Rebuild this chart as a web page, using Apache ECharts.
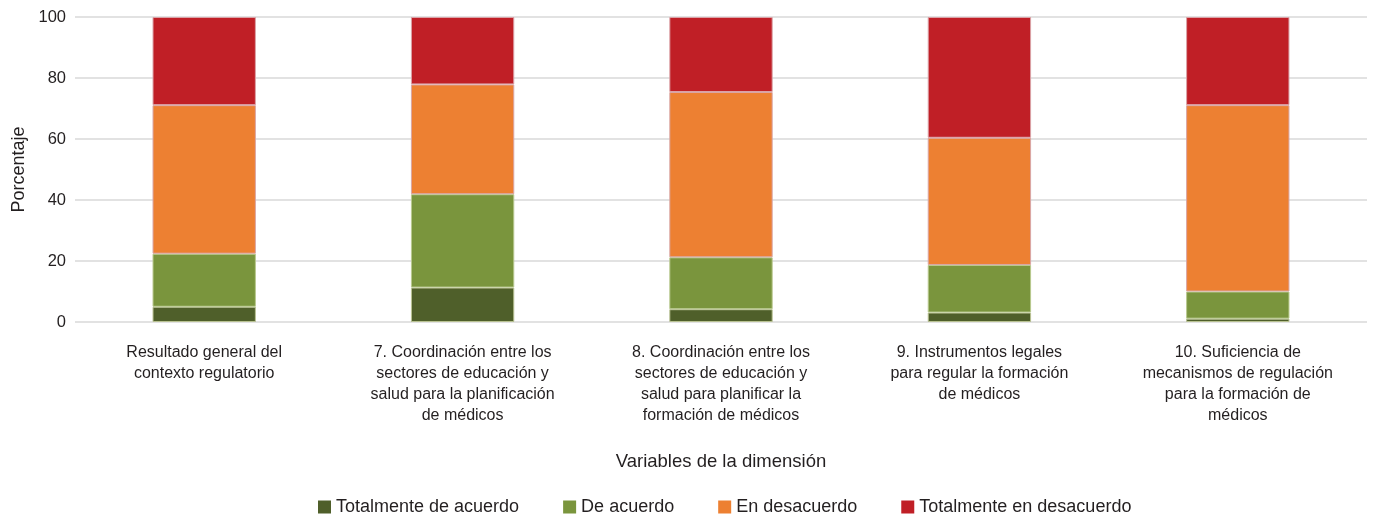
<!DOCTYPE html>
<html>
<head>
<meta charset="utf-8">
<script src="https://cdn.jsdelivr.net/npm/echarts@6/dist/echarts.min.js"></script>
<style>
  html, body { margin: 0; padding: 0; background: #fff; }
  #chart { width: 1374px; height: 517px; }
</style>
</head>
<body>
<div id="chart"></div>
<script>
const categories = [
  "Resultado general del\ncontexto regulatorio",
  "7. Coordinación entre los\nsectores de educación y\nsalud para la planificación\nde médicos",
  "8. Coordinación entre los\nsectores de educación y\nsalud para planificar la\nformación de médicos",
  "9. Instrumentos legales\npara regular la formación\nde médicos",
  "10. Suficiencia de\nmecanismos de regulación\npara la formación de\nmédicos",
];
const totalmenteDeAcuerdo = [5, 11.3, 4.2, 3.1, 1.1];
const deAcuerdo = [17.4, 30.6, 17, 15.6, 8.9];
const enDesacuerdo = [48.7, 36, 54.2, 41.7, 61.1];
const totalmenteEnDesacuerdo = [28.9, 22.1, 24.6, 39.6, 28.9];
const yTicks = [0, 20, 40, 60, 80, 100];

const font = "'Liberation Sans Narrow', 'Liberation Sans', sans-serif";
const textColor = "#231f20";

const makeSeries = (name, data, color, border) => ({
  name: name,
  type: "bar",
  stack: "total",
  barWidth: "40%",
  itemStyle: { color: color, borderColor: border, borderWidth: 1 },
  data: data,
});

const chart = echarts.init(document.getElementById("chart"));
chart.setOption({
  animation: false,
  textStyle: { fontFamily: font },
  grid: { left: 75, right: 7, top: 17, bottom: 195, outerBoundsMode: "none", containLabel: false },
  legend: {
    top: 493,
    left: 313,
    itemWidth: 13,
    itemHeight: 13,
    itemGap: 44,
    icon: "rect",
    itemStyle: { borderWidth: 0 },
    textStyle: { fontFamily: font, fontSize: 18, color: textColor },
  },
  xAxis: {
    type: "category",
    data: categories,
    name: "Variables de la dimensión",
    nameLocation: "middle",
    nameGap: 130,
    nameTextStyle: { fontFamily: font, fontSize: 18.5, color: textColor },
    axisLine: { show: false },
    axisTick: { show: false },
    axisLabel: {
      interval: 0,
      margin: 20,
      fontFamily: font,
      fontSize: 16,
      lineHeight: 21,
      color: textColor,
      align: "center",
    },
  },
  yAxis: {
    type: "value",
    min: yTicks[0],
    max: yTicks[yTicks.length - 1],
    interval: 20,
    name: "Porcentaje",
    nameLocation: "middle",
    nameRotate: 90,
    nameGap: 47,
    nameTextStyle: { fontFamily: font, fontSize: 18, color: textColor },
    axisLabel: { fontFamily: font, fontSize: 16.5, color: textColor, margin: 9 },
    splitLine: { lineStyle: { color: "#d9d9d9", width: 1.5 } },
    axisLine: { show: false },
    axisTick: { show: false },
  },
  series: [
    makeSeries("Totalmente de acuerdo", totalmenteDeAcuerdo, "#4f5f2a", "#b9c293"),
    makeSeries("De acuerdo", deAcuerdo, "#7a953d", "#b9c98f"),
    makeSeries("En desacuerdo", enDesacuerdo, "#ed8032", "#d9a6a6"),
    makeSeries("Totalmente en desacuerdo", totalmenteEnDesacuerdo, "#c01f26", "#dba3a8"),
  ],
});
</script>
</body>
</html>
